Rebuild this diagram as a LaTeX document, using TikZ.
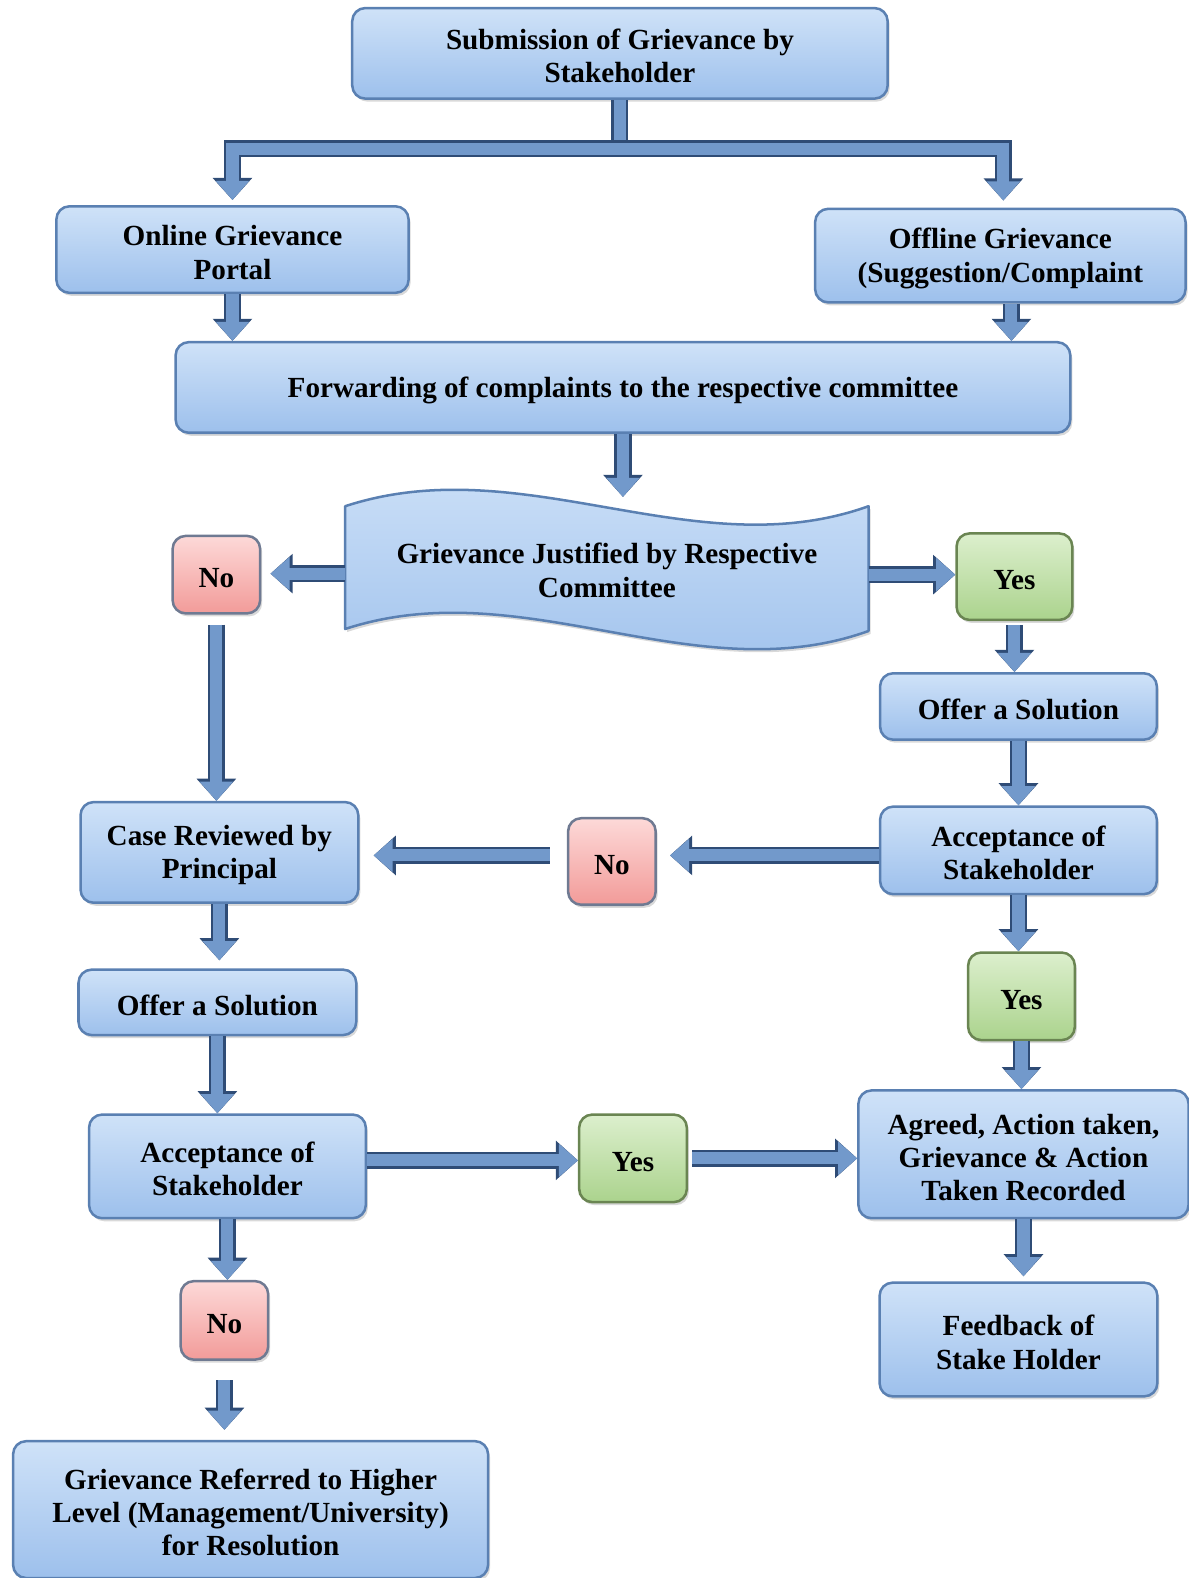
\documentclass[tikz,border=0pt]{standalone}
\usepackage{fontspec}
\setmainfont{Liberation Serif}
\usetikzlibrary{arrows.meta,shadows}

\definecolor{boxtop}{HTML}{CFE2F8}
\definecolor{boxbot}{HTML}{9DC0EC}
\definecolor{boxedge}{HTML}{5A80B2}
\definecolor{notop}{HTML}{FDD9D8}
\definecolor{nobot}{HTML}{F29B99}
\definecolor{noedge}{HTML}{6F7A92}
\definecolor{yestop}{HTML}{DCEFCD}
\definecolor{yesbot}{HTML}{ABD38D}
\definecolor{yesedge}{HTML}{6A8552}
\definecolor{arrowmid}{HTML}{7299CB}
\definecolor{arrowdark}{HTML}{2F4C76}

\newcommand{\tallstrut}{\rule{0pt}{26pt}}

\begin{document}
\begin{tikzpicture}[x=1pt,y=-1pt,
    font=\fontsize{29}{33}\selectfont\bfseries,
    box/.style={draw=boxedge, line width=2.5pt, rounded corners=13pt,
      top color=boxtop, bottom color=boxbot, align=center, inner sep=0pt,
      drop shadow={opacity=0.3, shadow xshift=2pt, shadow yshift=-3pt}},
    nobox/.style={box, draw=noedge, top color=notop, bottom color=nobot},
    yesbox/.style={box, draw=yesedge, top color=yestop, bottom color=yesbot},
    flow/.style={line width=12pt, draw=arrowmid, line join=miter,
      -{Triangle[length=19pt,width=32pt]},
      preaction={draw=arrowdark, line width=17pt, -{Triangle[length=22pt,width=38pt]}}}]
    \useasboundingbox (0,0) rectangle (1181,1568);

    \node[box, minimum width=532pt, minimum height=90pt] (sub) at (616,53) {\tallstrut Submission of Grievance by\\Stakeholder};

    \node[box, minimum width=350pt, minimum height=86pt] (online) at (231,248) {\tallstrut Online Grievance\\Portal};
    \node[box, minimum width=368pt, minimum height=93pt] (offline) at (994,254) {\tallstrut Offline Grievance\\(Suggestion/Complaint};

    \node[box, minimum width=889pt, minimum height=90pt] (fwd) at (619,385) {\tallstrut Forwarding of complaints to the respective committee};

    \fill[top color=boxtop, bottom color=boxbot, drop shadow={opacity=0.3, shadow xshift=2pt, shadow yshift=-3pt}]
      (343,503) .. controls (520,445) and (690,565) .. (863,503) -- (863,627)
      .. controls (690,689) and (520,567) .. (343,625) -- cycle;
    \draw[boxedge, line width=2.5pt, line join=round]
      (343,503) .. controls (520,445) and (690,565) .. (863,503) -- (863,627)
      .. controls (690,689) and (520,567) .. (343,625) -- cycle;
    \node[align=center, minimum width=520pt, minimum height=140pt, inner sep=0pt] (wave) at (603,564) {\tallstrut Grievance Justified by Respective\\Committee};

    \node[nobox, minimum width=87pt, minimum height=77pt] (no1) at (215,571) {\tallstrut No};
    \node[yesbox, minimum width=115pt, minimum height=86pt] (yes1) at (1008,573) {\tallstrut Yes};

    \node[box, minimum width=275pt, minimum height=66pt] (offerR) at (1012,702) {\tallstrut Offer a Solution};
    \node[box, minimum width=275pt, minimum height=87pt] (accR) at (1012,845) {\tallstrut Acceptance of\\Stakeholder};
    \node[nobox, minimum width=87pt, minimum height=86pt] (no2) at (608,856) {\tallstrut No};
    \node[box, minimum width=276pt, minimum height=100pt] (caseL) at (218,847) {\tallstrut Case Reviewed by\\Principal};

    \node[box, minimum width=276pt, minimum height=65pt] (offerL) at (216,996) {\tallstrut Offer a Solution};
    \node[yesbox, minimum width=106pt, minimum height=87pt] (yes2) at (1015,990) {\tallstrut Yes};

    \node[box, minimum width=328pt, minimum height=127pt] (agreed) at (1017,1147) {\tallstrut Agreed, Action taken,\\Grievance \& Action\\Taken Recorded};
    \node[box, minimum width=275pt, minimum height=103pt] (accL) at (226,1159) {\tallstrut Acceptance of\\Stakeholder};
    \node[yesbox, minimum width=107pt, minimum height=87pt] (yes3) at (629,1151) {\tallstrut Yes};

    \node[nobox, minimum width=87pt, minimum height=78pt] (no3) at (223,1312) {\tallstrut No};
    \node[box, minimum width=276pt, minimum height=113pt] (feedback) at (1012,1331) {\tallstrut Feedback of\\Stake Holder};

    \node[box, minimum width=472pt, minimum height=136pt] (referred) at (249,1500) {\tallstrut Grievance Referred to Higher\\Level (Management/University)\\for Resolution};

    \coordinate (split) at (616,148);

    \draw[line width=12pt, draw=arrowmid, preaction={draw=arrowdark, line width=17pt}] (sub.south) -- (split);
    \draw[flow, shorten >=5pt] (split) -| (online.north);
    \draw[flow, shorten >=7pt] (split) -| ([xshift=3pt]offline.north);

    \draw[flow] (online.south) -- (online.south |- fwd.north);
    \draw[flow] ([xshift=11pt]offline.south) -- ([xshift=11pt]offline.south |- fwd.north);
    \draw[flow] (fwd.south) -- (fwd.south |- wave.north);

    \draw[flow, shorten >=9pt] ([yshift=-6pt]wave.west) -- ([yshift=-6pt]wave.west -| no1.east);
    \draw[flow] ([yshift=-7pt]wave.east) -- ([yshift=-7pt]wave.east -| yes1.west);

    \draw[flow, shorten <=10pt] (no1.south) -- (no1.south |- caseL.north);
    \draw[flow, shorten <=4pt] (yes1.south) -- (yes1.south |- offerR.north);
    \draw[flow] (offerR.south) -- (accR.north);

    \draw[flow, shorten >=13pt] ([yshift=-5pt]accR.west) -- ([yshift=-5pt]accR.west -| no2.east);
    \draw[flow, shorten <=17pt, shorten >=14pt] ([yshift=6pt]no2.west) -- ([yshift=6pt]no2.west -| caseL.east);

    \draw[flow] (accR.south) -- (accR.south |- yes2.north);
    \draw[flow] (yes2.south) -- (yes2.south |- agreed.north);
    \draw[flow, shorten >=5pt] (agreed.south) -- (agreed.south |- feedback.north);

    \draw[flow, shorten >=8pt] (caseL.south) -- (caseL.south |- offerL.north);
    \draw[flow] (offerL.south) -- (offerL.south |- accL.north);
    \draw[flow] ([yshift=6pt]accL.east) -- ([yshift=6pt]accL.east -| yes3.west);
    \draw[flow, shorten <=4pt] (yes3.east) -- (yes3.east -| agreed.west);

    \draw[flow] (accL.south) -- (accL.south |- no3.north);
    \draw[flow, shorten <=19pt, shorten >=10pt] (no3.south) -- (no3.south |- referred.north);

  \end{tikzpicture}
\end{document}
